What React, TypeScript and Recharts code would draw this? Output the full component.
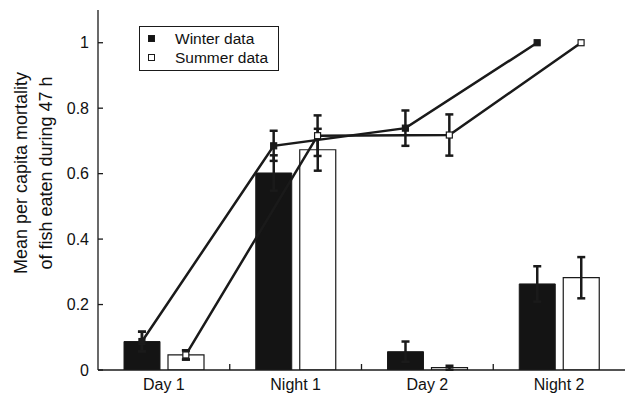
import React from 'react';
import { ComposedChart, Bar, Line, XAxis, YAxis, ErrorBar, Legend } from 'recharts';

// periods on the x axis
const categories = ['Day 1', 'Night 1', 'Day 2', 'Night 2'];

// per-period mortality (bars)
const winterBars = [0.087, 0.602, 0.056, 0.263];
const winterBarErr = [0.03, 0.054, 0.031, 0.054];
const summerBars = [0.046, 0.673, 0.007, 0.282];
const summerBarErr = [0.014, 0.064, 0.006, 0.063];

// cumulative mortality (lines)
const winterLine = [0.087, 0.685, 0.739, 1.0];
const winterLineErr = [0.03, 0.046, 0.054, null];
const summerLine = [0.046, 0.716, 0.718, 1.0];
const summerLineErr = [0.014, 0.062, 0.063, null];

const yTicks = [0, 0.2, 0.4, 0.6, 0.8, 1];
const legendOrder = ['Winter data', 'Summer data'];

const INK = '#1a1a1a';
const FONT = '"Liberation Sans", Arial, Helvetica, sans-serif';

const barData = categories.map((name, i) => ({
  name,
  winter: winterBars[i],
  winterErr: winterBarErr[i],
  summer: summerBars[i],
  summerErr: summerBarErr[i],
}));

// each period gets 3 slots on the numeric axis: winter bar centre at 1, summer at 2
const winterLineData = categories.map((name, i) => ({ x: i * 3 + 1, y: winterLine[i], err: winterLineErr[i] }));
const summerLineData = categories.map((name, i) => ({ x: i * 3 + 2, y: summerLine[i], err: summerLineErr[i] }));

const xTicks = categories.flatMap((_, i) => (i === 0 ? [i * 3 + 1.5] : [i * 3, i * 3 + 1.5]));

function XTick(props: any) {
  const { x, y, payload } = props;
  const v = payload.value;
  if (v % 3 === 0) {
    return <line x1={x} x2={x} y1={y - 9} y2={y - 15} stroke={INK} strokeWidth={1.3} />;
  }
  return (
    <text x={x} y={y} dy="0.71em" textAnchor="middle" fill="#111" fontSize={16} fontFamily={FONT}>
      {categories[Math.floor(v / 3)]}
    </text>
  );
}

const squareDot = (fill: string) => (props: any) => {
  const { cx, cy, index } = props;
  if (cx == null || cy == null) return <g key={index} />;
  return <rect key={index} x={cx - 3} y={cy - 3} width={6} height={6} fill={fill} stroke={INK} strokeWidth={1.2} />;
};

const renderYLabel = () => (
  <g fill="#111" fontSize={18} fontFamily={FONT}>
    <text x={27} y={173} textAnchor="middle" transform="rotate(-90, 27, 173)">
      Mean per capita mortality
    </text>
    <text x={52} y={173} textAnchor="middle" transform="rotate(-90, 52, 173)">
      of fish eaten during 47 h
    </text>
  </g>
);

const renderLegend = (props: any) => {
  const items = (props.payload || [])
    .filter((p: any) => legendOrder.includes(p.value))
    .sort((a: any, b: any) => legendOrder.indexOf(a.value) - legendOrder.indexOf(b.value));
  return (
    <div
      style={{
        border: `1.3px solid ${INK}`,
        width: 138,
        height: 41,
        paddingTop: 2,
        boxSizing: 'content-box',
        background: '#fff',
        fontFamily: FONT,
      }}
    >
      {items.map((entry: any) => (
        <div key={entry.value} style={{ display: 'flex', alignItems: 'center', height: 19 }}>
          <span
            style={{
              display: 'inline-block',
              width: 5,
              height: 5,
              marginLeft: 8,
              marginRight: 20,
              background: entry.color,
              border: `1.3px solid ${INK}`,
            }}
          />
          <span style={{ fontSize: 15.5, color: '#111' }}>{entry.value}</span>
        </div>
      ))}
    </div>
  );
};

export default function App() {
  return (
    <div style={{ position: 'absolute', left: 0, top: 0, fontFamily: FONT, background: '#fff' }}>
      <ComposedChart
        width={625}
        height={394}
        data={barData}
        margin={{ top: 10, right: 0, bottom: 0, left: 0 }}
        barSize={36}
        barGap={8}
      >
        <XAxis
          xAxisId="num"
          type="number"
          dataKey="x"
          domain={[0, categories.length * 3]}
          allowDataOverflow
          ticks={xTicks}
          interval={0}
          height={24}
          tickSize={6}
          tickMargin={3}
          tickLine={false}
          axisLine={{ stroke: INK, strokeWidth: 1.3 }}
          tick={<XTick />}
        />
        <XAxis xAxisId="cat" dataKey="name" type="category" hide height={0} />
        <YAxis
          domain={[0, 1.1]}
          allowDataOverflow
          ticks={yTicks}
          width={98}
          tickSize={-5}
          tickMargin={14}
          axisLine={{ stroke: INK, strokeWidth: 1.3 }}
          tickLine={{ stroke: INK, strokeWidth: 1.3 }}
          tick={{ fill: '#111', fontSize: 16, fontFamily: FONT }}
          label={renderYLabel}
        />
        <Legend
          layout="vertical"
          align="center"
          verticalAlign="middle"
          content={renderLegend}
          wrapperStyle={{ left: 139, top: 26, width: 'auto', height: 'auto' }}
        />
        <Bar xAxisId="cat" dataKey="winter" name="Winter data" fill="#141414" stroke={INK} strokeWidth={1} isAnimationActive={false}>
          <ErrorBar dataKey="winterErr" direction="y" width={4} stroke={INK} strokeWidth={2.5} />
        </Bar>
        <Bar xAxisId="cat" dataKey="summer" name="Summer data" fill="#ffffff" stroke={INK} strokeWidth={1.2} isAnimationActive={false}>
          <ErrorBar dataKey="summerErr" direction="y" width={4} stroke={INK} strokeWidth={2.5} />
        </Bar>
        <Line
          xAxisId="num"
          data={winterLineData}
          dataKey="y"
          name="winter cumulative"
          legendType="none"
          stroke={INK}
          strokeWidth={2.5}
          dot={squareDot(INK)}
          activeDot={false}
          isAnimationActive={false}
        >
          <ErrorBar dataKey="err" direction="y" width={4} stroke={INK} strokeWidth={2.5} />
        </Line>
        <Line
          xAxisId="num"
          data={summerLineData}
          dataKey="y"
          name="summer cumulative"
          legendType="none"
          stroke={INK}
          strokeWidth={2.5}
          dot={squareDot('#ffffff')}
          activeDot={false}
          isAnimationActive={false}
        >
          <ErrorBar dataKey="err" direction="y" width={4} stroke={INK} strokeWidth={2.5} />
        </Line>
      </ComposedChart>
    </div>
  );
}
